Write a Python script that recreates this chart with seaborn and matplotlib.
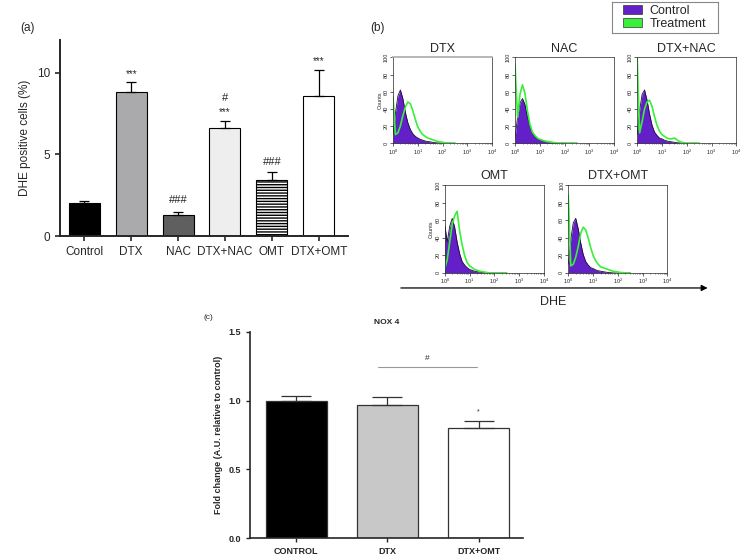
import matplotlib
matplotlib.use("Agg")
from matplotlib import pyplot as plt
import numpy as np
import pandas as pd
import seaborn as sb

# ---- panel (a): DHE positive cells ----
groups_a = ["Control", "DTX", "NAC", "DTX+NAC", "OMT", "DTX+OMT"]
dhe_mean = [2.0, 8.8, 1.3, 6.65, 3.45, 8.55]
dhe_err = [0.15, 0.65, 0.15, 0.4, 0.45, 1.6]
marks_a = [("DTX", 9.95, "***"), ("NAC", 2.2, "###"), ("DTX+NAC", 7.6, "***"),
           ("DTX+NAC", 8.45, "#"), ("OMT", 4.55, "###"), ("DTX+OMT", 10.7, "***")]

# ---- panel (b): flow cytometry histograms (log10 of DHE signal) ----
log_dhe = [0.0, 0.1, 0.2, 0.3, 0.4, 0.5, 0.6, 0.7, 0.8, 0.9, 1.0, 1.1, 1.2,
           1.3, 1.4, 1.5, 1.6, 1.7, 1.8, 1.9, 2.0, 2.1, 2.2, 2.3, 2.4, 2.5]
hist_titles = ["DTX", "NAC", "DTX+NAC", "OMT", "DTX+OMT"]
control_counts = {
    "DTX":     [10, 35, 55, 62, 52, 36, 24, 16, 11, 8, 6, 4.5, 3.5, 2.5, 2, 1.5, 1, 0.5, 0.3, 0.2, 0, 0, 0, 0, 0, 0],
    "NAC":     [6, 30, 47, 52, 45, 31, 20, 12, 8, 5, 4, 3, 2, 1.5, 1, 0.5, 0.3, 0, 0, 0, 0, 0, 0, 0, 0, 0],
    "DTX+NAC": [10, 38, 57, 62, 50, 34, 21, 13, 9, 6, 5, 3.5, 2.5, 2, 1.5, 1, 0.5, 0.3, 0, 0, 0, 0, 0, 0, 0, 0],
    "OMT":     [55, 35, 53, 62, 52, 35, 22, 13, 9, 6, 4, 3, 2, 1.5, 1, 0.5, 0.3, 0, 0, 0, 0, 0, 0, 0, 0, 0],
    "DTX+OMT": [10, 38, 57, 62, 50, 34, 21, 13, 9, 6, 5, 3.5, 2.5, 2, 1.5, 1, 0.5, 0.3, 0, 0, 0, 0, 0, 0, 0, 0],
}
treatment_counts = {
    "DTX":     [55, 10, 12, 20, 32, 42, 48, 46, 38, 28, 19, 14, 10, 8, 6, 5, 4, 3, 2, 1.5, 1, 0.5, 0.3, 0, 0, 0],
    "NAC":     [92, 30, 57, 68, 58, 38, 22, 13, 9, 6, 4.5, 3.5, 2.5, 2, 1.5, 1, 0.5, 0.3, 0, 0, 0, 0, 0, 0, 0, 0],
    "DTX+NAC": [100, 12, 25, 40, 48, 50, 43, 31, 21, 14, 10, 8, 6, 5, 5, 6, 4, 2, 1, 0.5, 0, 0, 0, 0, 0, 0],
    "OMT":     [5, 15, 35, 55, 65, 70, 48, 32, 20, 12, 8, 6, 4, 3, 2, 1.5, 1, 0.5, 0, 0, 0, 0, 0, 0, 0, 0],
    "DTX+OMT": [88, 8, 10, 18, 30, 45, 52, 49, 40, 29, 20, 14, 10, 7, 6, 5, 4, 3, 2, 1.5, 1, 0.5, 0.3, 0, 0, 0],
}

# ---- panel (c): NOX 4 ----
groups_c = ["CONTROL", "DTX", "DTX+OMT"]
nox4_mean = [1.0, 0.97, 0.80]
nox4_err = [0.035, 0.06, 0.05]

sb.set_style("ticks")
plt.rcParams["font.family"] = ["Liberation Sans", "DejaVu Sans"]

fig = plt.figure(figsize=(7.4, 5.57), dpi=100)

# Figure panel (a)
ax_a = fig.add_axes([0.081, 0.576, 0.389, 0.352])
df_a = pd.DataFrame({"group": groups_a, "value": dhe_mean})
colors_a = ["#000000", "#a9a9ae", "#5f5f5f", "#eeeeee", "#ffffff", "#ffffff"]
sb.barplot(data=df_a, x="group", y="value", hue="group", palette=colors_a,
           width=0.66, edgecolor="black", linewidth=0.8, legend=False, ax=ax_a)
ax_a.patches[4].set_hatch("------")
ax_a.errorbar(range(len(groups_a)), dhe_mean, yerr=[np.zeros(len(dhe_err)), dhe_err],
              fmt="none", ecolor="black", elinewidth=0.9, capsize=3.5, capthick=0.9)
for g, y, s in marks_a:
    ax_a.text(groups_a.index(g), y, s, ha="center", va="center",
              fontsize=8 if "#" in s else 7)
ax_a.set_xlim(-0.52, 5.62)
ax_a.set_ylim(0, 12)
ax_a.set_yticks([0, 5, 10])
ax_a.set_xlabel("")
ax_a.set_ylabel("DHE positive cells (%)", fontsize=8.5)
ax_a.tick_params(labelsize=8.5, width=1.2)
sb.despine(ax=ax_a)
for sp in ["left", "bottom"]:
    ax_a.spines[sp].set_linewidth(1.4)
fig.text(0.027, 0.944, "(a)", fontsize=8.5)

# Figure panel (b)
hist_boxes = {
    "DTX": [0.531, 0.743, 0.134, 0.154],
    "NAC": [0.696, 0.743, 0.134, 0.154],
    "DTX+NAC": [0.861, 0.743, 0.134, 0.154],
    "OMT": [0.601, 0.510, 0.134, 0.158],
    "DTX+OMT": [0.768, 0.510, 0.134, 0.158],
}
xs = 10 ** np.array(log_dhe)
for name in hist_titles:
    ax = fig.add_axes(hist_boxes[name])
    ax.fill_between(xs, control_counts[name], color="#6320c8", lw=0)
    ax.plot(xs, control_counts[name], color="#1a1030", lw=0.6)
    ax.plot(xs, treatment_counts[name], color="#38f038", lw=1.2)
    ax.set_xscale("log")
    ax.set_xlim(1, 1e4)
    ax.set_ylim(0, 100)
    ax.set_yticks([0, 20, 40, 60, 80, 100])
    ax.set_yticklabels(["0", "20", "40", "60", "80", "100"], rotation=90, va="center")
    ax.tick_params(labelsize=4, length=2, width=0.5, pad=1)
    ax.tick_params(which="minor", length=1, width=0.4)
    for sp in ax.spines.values():
        sp.set_linewidth(0.5)
    if name == "DTX":
        ax.spines["top"].set_color("#aaaaaa")
        ax.spines["top"].set_linewidth(1.2)
    ax.set_title(name, fontsize=9, pad=4)
    if name in ["DTX", "OMT"]:
        ax.set_ylabel("Counts", fontsize=4, labelpad=1)
fig.text(0.5, 0.944, "(b)", fontsize=8.5)
fig.add_artist(matplotlib.patches.FancyArrowPatch((0.538, 0.483), (0.96, 0.483),
               transform=fig.transFigure, arrowstyle="-|>", mutation_scale=9,
               color="black", lw=0.9))
fig.text(0.748, 0.458, "DHE", ha="center", va="center", fontsize=9)

# legend box
ax_leg = fig.add_axes([0.827, 0.941, 0.143, 0.056])
ax_leg.set_xticks([])
ax_leg.set_yticks([])
for sp in ax_leg.spines.values():
    sp.set_color("#888888")
    sp.set_linewidth(0.8)
handles = [matplotlib.patches.Patch(facecolor="#6320c8", edgecolor="#333333", lw=0.5),
           matplotlib.patches.Patch(facecolor="#38f038", edgecolor="#333333", lw=0.5)]
ax_leg.legend(handles, ["Control", "Treatment"], loc="center", frameon=False,
              fontsize=9, handlelength=1.5, handleheight=0.7, labelspacing=0.05,
              borderpad=0, handletextpad=0.6)

# Figure panel (c)
ax_c = fig.add_axes([0.338, 0.034, 0.369, 0.370])
df_c = pd.DataFrame({"group": groups_c, "value": nox4_mean})
sb.barplot(data=df_c, x="group", y="value", hue="group",
           palette=["#000000", "#c8c8c8", "#ffffff"], width=0.67,
           edgecolor="#333333", linewidth=0.9, legend=False, ax=ax_c)
ax_c.errorbar(range(len(groups_c)), nox4_mean, yerr=[np.zeros(len(nox4_err)), nox4_err],
              fmt="none", ecolor="#333333", elinewidth=0.9, capsize=11, capthick=0.9)
ax_c.plot([0.9, 1.98], [1.245, 1.245], color="#999999", lw=0.8)
ax_c.text(1.44, 1.31, "#", ha="center", va="center", fontsize=6)
ax_c.text(2, 0.917, "*", ha="center", va="center", fontsize=5)
ax_c.set_xlim(-0.505, 2.49)
ax_c.set_ylim(0, 1.5)
ax_c.set_yticks([0, 0.5, 1.0, 1.5])
ax_c.set_yticklabels(["0.0", "0.5", "1.0", "1.5"])
ax_c.set_xlabel("")
ax_c.set_ylabel("Fold change (A.U. relative to control)", fontsize=6.5, fontweight="bold")
ax_c.set_title("NOX 4", fontsize=6, fontweight="bold", pad=6)
ax_c.tick_params(labelsize=6.5, width=1.0, length=3)
for lab in ax_c.get_xticklabels() + ax_c.get_yticklabels():
    lab.set_fontweight("bold")
sb.despine(ax=ax_c)
for sp in ["left", "bottom"]:
    ax_c.spines[sp].set_linewidth(1.2)
fig.text(0.275, 0.427, "(c)", fontsize=6)

plt.savefig("out.png", dpi=100)
plt.close("all")
